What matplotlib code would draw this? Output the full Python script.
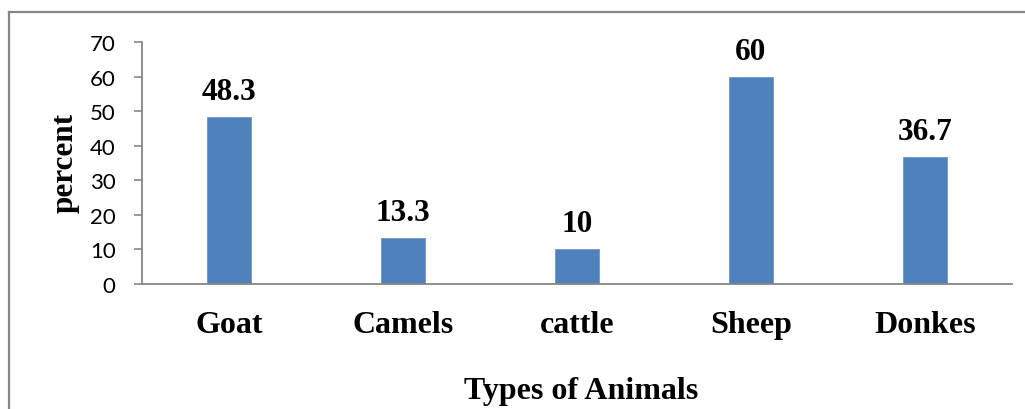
import matplotlib
matplotlib.use("Agg")
import matplotlib.pyplot as plt
from matplotlib.lines import Line2D

# Share of households keeping each type of animal
categories = ["Goat", "Camels", "cattle", "Sheep", "Donkes"]
percent_values = [48.3, 13.3, 10, 60, 36.7]
value_labels = ["48.3", "13.3", "10", "60", "36.7"]
y_ticks = [0, 10, 20, 30, 40, 50, 60, 70]

W, H = 1025, 410
fig = plt.figure(figsize=(W / 100, H / 100), dpi=100)
fig.patch.set_facecolor("white")

serif = ["Liberation Serif", "DejaVu Serif"]
axis_grey = "#868686"

ax = fig.add_axes([142 / W, 1 - 285 / H, (1012 - 142) / W, (285 - 43) / H])
x = range(len(categories))
ax.bar(x, percent_values, width=0.25, color="#4F81BD",
       edgecolor="#6E97CC", linewidth=0.6, zorder=2)

for xi, v, lab in zip(x, percent_values, value_labels):
    ax.annotate(lab, xy=(xi, v), xytext=(0, 13), textcoords="offset points",
                ha="center", va="baseline", fontsize=22.5, fontweight="bold",
                family=serif, color="black")

ax.set_xlim(-0.5, len(categories) - 0.5)
ax.set_ylim(0, 70)
ax.set_yticks(y_ticks)
ax.set_yticklabels([str(t) for t in y_ticks], family="Lato", fontsize=16)
ax.set_xticks(list(x))
ax.set_xticklabels(categories, family=serif, fontsize=23, fontweight="bold")

ax.tick_params(axis="y", length=5.5, width=1.2, color=axis_grey, pad=13.5)
ax.tick_params(axis="x", length=0, pad=18.5)

for side in ("top", "right"):
    ax.spines[side].set_visible(False)
for side in ("left", "bottom"):
    ax.spines[side].set_color(axis_grey)
    ax.spines[side].set_linewidth(1.3)

fig.text(65 / W, 1 - 163 / H, "percent", rotation=90, ha="center", va="center",
         fontsize=22.5, fontweight="bold", family=serif)
fig.text(581 / W, 1 - 399 / H, "Types of Animals", ha="center", va="baseline",
         fontsize=23, fontweight="bold", family=serif)

# Chart frame (top and left edges)
fig.add_artist(Line2D([9 / W, 1.0], [1 - 13 / H, 1 - 13 / H],
                      transform=fig.transFigure, color=axis_grey, linewidth=1.6))
fig.add_artist(Line2D([9 / W, 9 / W], [1 - 13 / H, 0.0],
                      transform=fig.transFigure, color=axis_grey, linewidth=1.6))

fig.savefig("out.png", dpi=100, facecolor="white")
